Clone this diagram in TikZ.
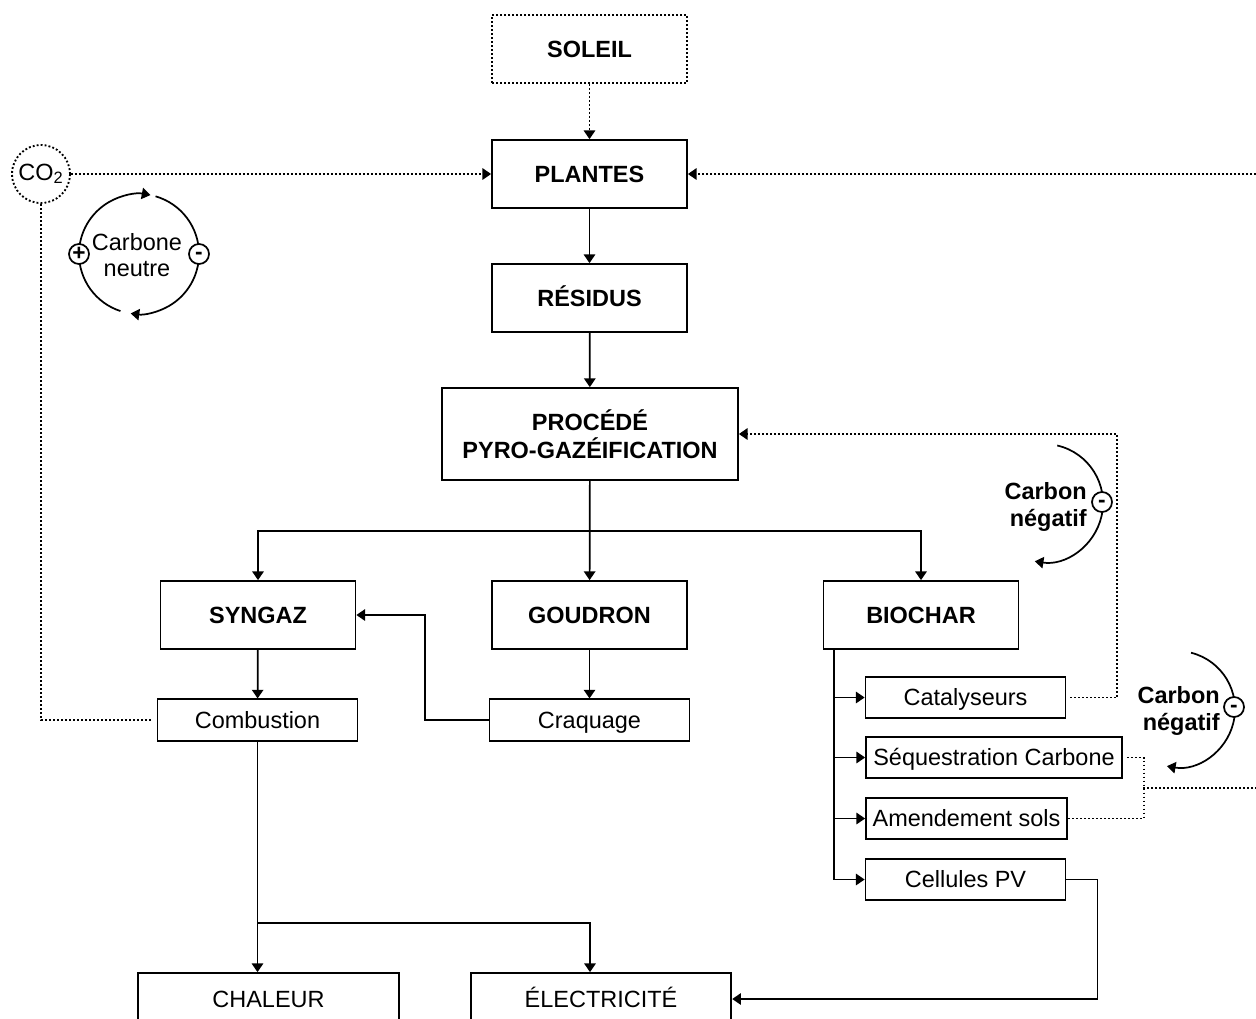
\documentclass[tikz,border=0pt]{standalone}
\usepackage{fontspec}
\setmainfont{Liberation Sans}
\usetikzlibrary{arrows.meta,calc}
\newcommand{\lowminus}{\smash{\raisebox{-4.4pt}{-}}}
\begin{document}
\begin{tikzpicture}[x=0.75pt,y=-0.75pt,
  txt/.style={font=\fontsize{17.6}{20}\selectfont},
  bigbox/.style={draw,line width=1.3pt,inner sep=0pt,minimum width=146.25pt,minimum height=51pt,font=\fontsize{17.6}{21}\selectfont\bfseries,align=center},
  one/.style={text height=12.6pt,text depth=0pt},
  dbigbox/.style={bigbox,line width=1.4pt,dash pattern=on 1.4pt off 1.6pt},
  smbox/.style={draw,line width=1.3pt,inner sep=0pt,minimum width=150pt,minimum height=31pt,font=\fontsize{17.6}{20}\selectfont,one},
  endbox/.style={draw,line width=1.3pt,inner sep=0pt,minimum width=195.5pt,minimum height=39pt,font=\fontsize{17.6}{20}\selectfont,one},
  ln/.style={line width=1.3pt},
  arr/.style={ln,-{Triangle[length=6.5pt,width=8.5pt]}},
  dotln/.style={line width=1.4pt,dash pattern=on 1.4pt off 1.6pt},
  dotarr/.style={dotln,-{Triangle[length=6.5pt,width=8.5pt]}},
  sgn/.style={circle,draw,line width=1.3pt,fill=white,inner sep=0pt,minimum size=15pt,font=\fontsize{17}{17}\selectfont\bfseries},
  mns/.style={sgn,text height=0pt,text depth=0pt},
  cyc/.style={line width=1.3pt},
  cycarr/.style={cyc,-{Triangle[length=6.5pt,width=8.5pt]}},
  neg/.style={font=\fontsize{17.6}{20.5}\selectfont\bfseries,align=right,inner sep=0pt}
]
\useasboundingbox (0,0) rectangle (1256,1018);
\clip (0,0) rectangle (1256,1018);

% main boxes
\node[dbigbox,one] (sol) at (589.5,49) {SOLEIL};
\node[bigbox,one] (pla) at (589.5,174) {PLANTES};
\node[bigbox,one] (res) at (589.5,298) {RÉSIDUS};
\node[bigbox,minimum width=222pt,minimum height=69pt] (pro) at (590,434) {PROCÉDÉ\\PYRO-GAZÉIFICATION};
\node[bigbox,one] (syn) at (258,615) {SYNGAZ};
\node[bigbox,one] (gou) at (589.5,615) {GOUDRON};
\node[bigbox,one] (bio) at (921,615) {BIOCHAR};
\node[smbox] (com) at (257.5,720) {Combustion};
\node[smbox] (cra) at (589.5,720) {Craquage};
\node[smbox] (cat) at (965.5,697.5) {Catalyseurs};
\node[smbox,minimum width=192pt] (seq) at (994,757.5) {Séquestration Carbone};
\node[smbox,minimum width=150.75pt] (ame) at (966.5,818.5) {Amendement sols};
\node[smbox] (cel) at (965.5,879.5) {Cellules PV};
\node[endbox] (cha) at (268.5,999) {CHALEUR};
\node[endbox] (ele) at (601,999) {ÉLECTRICITÉ};

% CO2
\node[circle,dotln,draw,minimum size=43.5pt,inner sep=0pt,txt] (co2) at (41,174) {CO\textsubscript{2}};

% carbone neutre cycle
\coordinate (cn) at (139,254);
\draw[cycarr] ($(cn)+(-180:60)$) arc[start angle=-180,end angle=-79,radius=60];
\draw[cyc] ($(cn)+(-74:60)$) arc[start angle=-74,end angle=0,radius=60];
\draw[cycarr] ($(cn)+(0:60)$) arc[start angle=0,end angle=98,radius=60];
\draw[cyc] ($(cn)+(108:60)$) arc[start angle=108,end angle=180,radius=60];
\node[sgn] (plus) at (79,254) {+};
\node[mns] (minus) at (199,254) {\lowminus};
\node[txt,align=center,inner sep=0pt] (cntext) at (137,255) {Carbone\\neutre};

% carbon negatif 1
\coordinate (cg1) at (1044,503);
\draw[cycarr] ($(cg1)+(-77:59)$) arc[start angle=-77,end angle=99,radius=59];
\node[mns] (m1) at (1102,502) {\lowminus};
\node[neg,anchor=east] (neg1) at (1087,507) {Carbon\\négatif};

% carbon negatif 2
\coordinate (cg2) at (1177,709);
\draw[cycarr] ($(cg2)+(-76:58)$) arc[start angle=-76,end angle=100,radius=58];
\node[mns] (m2) at (1234,707) {\lowminus};
\node[neg,anchor=east] (neg2) at (1220,711) {Carbon\\négatif};

% dotted connectors
\coordinate (rt1) at (1256,174);
\coordinate (rt2) at (1256,788);
\coordinate (jn) at (1143,788);
\draw[dotarr] (sol) -- (pla);
\draw[dotarr] (co2) -- (pla);
\draw[dotarr] (rt1) -- (pla);
\draw[dotln,shorten <=4.5pt] (com.west) -| (co2.south);
\draw[dotarr,shorten <=3pt] (cat.east) -- ++(51,0) |- (pro.east);
\draw[dotln,shorten <=3pt] (seq.east) -- ++(21,0) |- (ame.east);
\draw[dotln] (jn) -- (rt2);

% solid connectors
\draw[arr] (pla) -- (res);
\draw[arr] (res) -- (pro);
\draw[arr] (pro) -- (gou);
\coordinate (sp1) at (590,531);
\draw[arr] (sp1) -| (syn.north);
\draw[arr] (sp1) -| (bio.north);
\draw[arr] (syn) -- (com);
\draw[arr] (gou) -- (cra);
\draw[arr] (cra.west) -- ++(-64,0) |- (syn.east);
\coordinate (bt) at ($(bio.south west)+(11,0)$);
\draw[arr] (bt) |- (cat.west);
\draw[arr] (bt) |- (seq.west);
\draw[arr] (bt) |- (ame.west);
\draw[arr] (bt) |- (cel.west);
\draw[arr] (cel.east) -- ++(31,0) |- (ele.east);
\draw[arr] (com.south) -- (com.south |- cha.north);
\coordinate (sp2) at (257.5,923);
\draw[arr] (sp2) -| ($(ele.north)+(-11,0)$);
\end{tikzpicture}
\end{document}
